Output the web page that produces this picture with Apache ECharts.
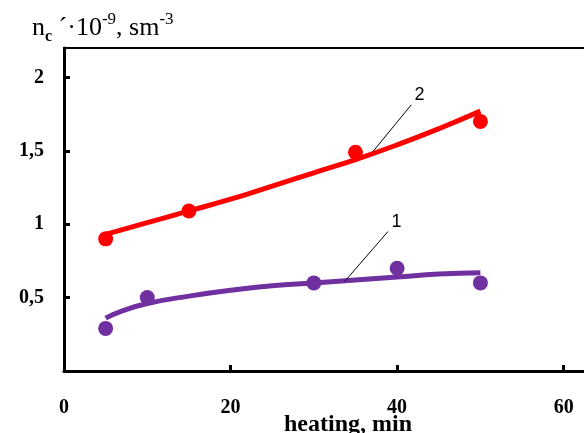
<!DOCTYPE html>
<html>
<head>
<meta charset="UTF-8">
<script src="https://cdn.jsdelivr.net/npm/echarts@6/dist/echarts.min.js"></script>
<style>
  html, body { margin: 0; padding: 0; background: #fff; }
  #chart { width: 584px; height: 433px; }
</style>
</head>
<body>
<div id="chart"></div>
<script>
// measured points
var xPts2 = [5, 15, 35, 50];
var yPts2 = [0.90, 1.09, 1.49, 1.70];
var xPts1 = [5, 10, 30, 40, 50];
var yPts1 = [0.29, 0.50, 0.60, 0.70, 0.60];

// fitted curves
var xFit2 = [5, 10, 15, 20, 25, 30, 35, 40, 45, 50];
var yFit2 = [0.93, 1.01, 1.09, 1.17, 1.26, 1.35, 1.44, 1.54, 1.65, 1.77];
var xFit1 = [5, 7, 10, 15, 20, 25, 30, 35, 40, 45, 50];
var yFit1 = [0.36, 0.41, 0.46, 0.51, 0.55, 0.58, 0.60, 0.62, 0.64, 0.66, 0.67];

var xTicks = [0, 20, 40, 60];
var yTicks = [0.5, 1, 1.5, 2];
var xMax = 62.8;
var yTop = 2.2;

function pairs(xs, ys) {
    return xs.map(function (x, i) { return [x, ys[i]]; });
}

var chart = echarts.init(document.getElementById('chart'));
var serif = '"Liberation Serif", "DejaVu Serif", serif';
var sans = 'Arial, "Liberation Sans", sans-serif';

var option = {
    animation: false,
    title: {
        text: '{m|n}{sub|c}{m| ´·10}{sup|-9}{m|, sm}{sup|-3}',
        left: 27,
        top: 6,
        textStyle: {
            rich: {
                m: { fontFamily: serif, fontSize: 26, fontWeight: 'normal', color: '#000', verticalAlign: 'middle', lineHeight: 34 },
                sub: { fontFamily: serif, fontSize: 16, fontWeight: 'bold', color: '#000', verticalAlign: 'bottom', lineHeight: 34 },
                sup: { fontFamily: serif, fontSize: 17, fontWeight: 'normal', color: '#000', verticalAlign: 'top', lineHeight: 34 }
            }
        }
    },
    // frame line along the top of the plot box
    graphic: [{
        type: 'rect',
        left: 63,
        top: 47,
        silent: true,
        z: 100,
        shape: { width: 525, height: 2 },
        style: { fill: '#000' }
    }],
    grid: { left: 64, top: 48, right: -3, bottom: 62, outerBoundsMode: 'none' },
    xAxis: {
        type: 'value',
        min: 0,
        max: xMax,
        interval: 20,
        splitLine: { show: false },
        axisLine: { lineStyle: { color: '#000', width: 3 } },
        axisTick: { inside: true, length: 6, lineStyle: { color: '#000', width: 3 } },
        axisLabel: {
            showMaxLabel: false,
            margin: 27,
            fontFamily: serif, fontSize: 20, fontWeight: 'bold', color: '#000',
            formatter: function (v) { return xTicks.indexOf(v) >= 0 ? String(v) : ''; }
        },
        name: 'heating, min',
        nameLocation: 'middle',
        nameGap: 42,
        nameMoveOverlap: false,
        nameTextStyle: { fontFamily: serif, fontSize: 24, fontWeight: 'bold', color: '#000', padding: [0, 0, 0, 45] }
    },
    yAxis: {
        type: 'value',
        min: 0,
        max: yTop,
        interval: 0.5,
        splitLine: { show: false },
        axisLine: { show: true, onZero: false, lineStyle: { color: '#000', width: 3 } },
        axisTick: { inside: true, length: 6, lineStyle: { color: '#000', width: 3 } },
        axisLabel: {
            showMinLabel: false,
            showMaxLabel: false,
            margin: 20,
            fontFamily: serif, fontSize: 20, fontWeight: 'bold', color: '#000',
            formatter: function (v) { return yTicks.indexOf(v) >= 0 ? String(v).replace('.', ',') : ''; }
        }
    },
    series: [{
        type: 'line',
        data: pairs(xFit2, yFit2),
        smooth: true,
        showSymbol: false,
        lineStyle: { color: '#ff0000', width: 5 },
        markLine: {
            silent: true,
            symbol: ['none', 'none'],
            lineStyle: { color: '#000', width: 1, type: 'solid' },
            label: { show: true, position: 'end', formatter: '2', fontFamily: sans, fontSize: 18, color: '#000', distance: 13 },
            data: [[{ coord: [37.1, 1.495] }, { coord: [41.7, 1.813] }]]
        }
    }, {
        type: 'line',
        data: pairs(xFit1, yFit1),
        smooth: true,
        showSymbol: false,
        lineStyle: { color: '#7030a0', width: 5 },
        markLine: {
            silent: true,
            symbol: ['none', 'none'],
            lineStyle: { color: '#000', width: 1, type: 'solid' },
            label: { show: true, position: 'end', formatter: '1', fontFamily: sans, fontSize: 18, color: '#000', distance: 13 },
            data: [[{ coord: [33.7, 0.61] }, { coord: [38.9, 0.95] }]]
        }
    }, {
        type: 'scatter',
        data: pairs(xPts2, yPts2),
        symbolSize: 15,
        itemStyle: { color: '#ff0000', opacity: 1 }
    }, {
        type: 'scatter',
        data: pairs(xPts1, yPts1),
        symbolSize: 15,
        itemStyle: { color: '#7030a0', opacity: 1 }
    }]
};

chart.setOption(option);
</script>
</body>
</html>
